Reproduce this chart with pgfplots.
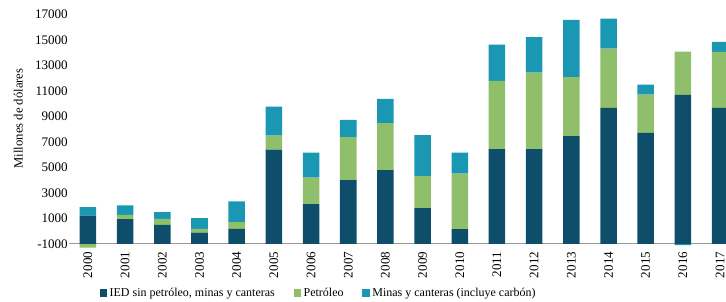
\documentclass[border=0pt]{standalone}
\usepackage{fontspec}
\setmainfont{Liberation Serif}
\usepackage{pgfplots}
\usepackage{pgfplotstable}
\pgfplotsset{compat=1.18}
\definecolor{cBlue}{HTML}{0E4E6B}
\definecolor{cGreen}{HTML}{8FBF6B}
\definecolor{cCyan}{HTML}{1A97B3}
% values measured from the base line (labelled -1000)
\pgfplotstableread{
x blue green cyan
0 2220 -300 660
1 1940 340 730
2 1490 470 530
3 890 290 840
4 1180 530 1620
5 7400 1100 2270
6 3110 2090 1960
7 5000 3370 1360
8 5780 3690 1910
9 2800 2510 3220
10 1150 4360 1650
11 7430 5360 2850
12 7430 6010 2780
13 8450 4630 4490
14 10670 4650 2350
15 8710 3000 780
16 11690 3400 -100
17 10670 4390 780
}\datatable
\begin{document}
\begin{tikzpicture}
\useasboundingbox (-52.05pt,-39.7pt) rectangle (492.7pt,186.8pt);
\begin{axis}[
  scale only axis, width=492.7pt, height=185.5pt,
  xmin=-0.5, xmax=17.16, ymin=-400, ymax=19000,
  ybar stacked, stack negative=separate, bar width=12.4pt,
  axis line style={draw=none}, major tick length=0pt,
  xtick={0,...,17},
  xticklabels={2000,2001,2002,2003,2004,2005,2006,2007,2008,2009,2010,2011,2012,2013,2014,2015,2016,2017},
  x tick label style={rotate=90, anchor=east, font=\fontsize{9.8}{10}\selectfont, inner sep=2pt},
  ytick={0,2000,...,18000},
  yticklabels={-1000,1000,3000,5000,7000,9000,11000,13000,15000,17000},
  y tick label style={font=\fontsize{9.8}{10}\selectfont, inner sep=1pt},
  extra y ticks={0}, extra y tick labels={},
  extra y tick style={grid=major, major grid style={draw=gray!80, line width=0.9pt}},
  ylabel={Millones de dólares},
  every axis y label/.style={at={(axis description cs:-0.0777,0.528)}, rotate=90, anchor=center, font=\fontsize{9.5}{10}\selectfont},
  legend style={at={(axis description cs:0.38,-0.178)}, anchor=center, draw=none, legend columns=3,
    font=\fontsize{9}{10}\selectfont, /tikz/every even column/.append style={column sep=12pt}},
  legend image code/.code={\fill[#1] (0pt,-2.8pt) rectangle (5.6pt,2.8pt);},
]
\addplot[fill=cBlue, draw=none] table[x=x,y=blue]{\datatable};
\addplot[fill=cGreen, draw=none] table[x=x,y=green]{\datatable};
\addplot[fill=cCyan, draw=none] table[x=x,y=cyan]{\datatable};
\legend{{IED sin petróleo, minas y canteras}, {Petróleo}, {Minas y canteras (incluye carbón)}}
\end{axis}
\end{tikzpicture}
\end{document}
